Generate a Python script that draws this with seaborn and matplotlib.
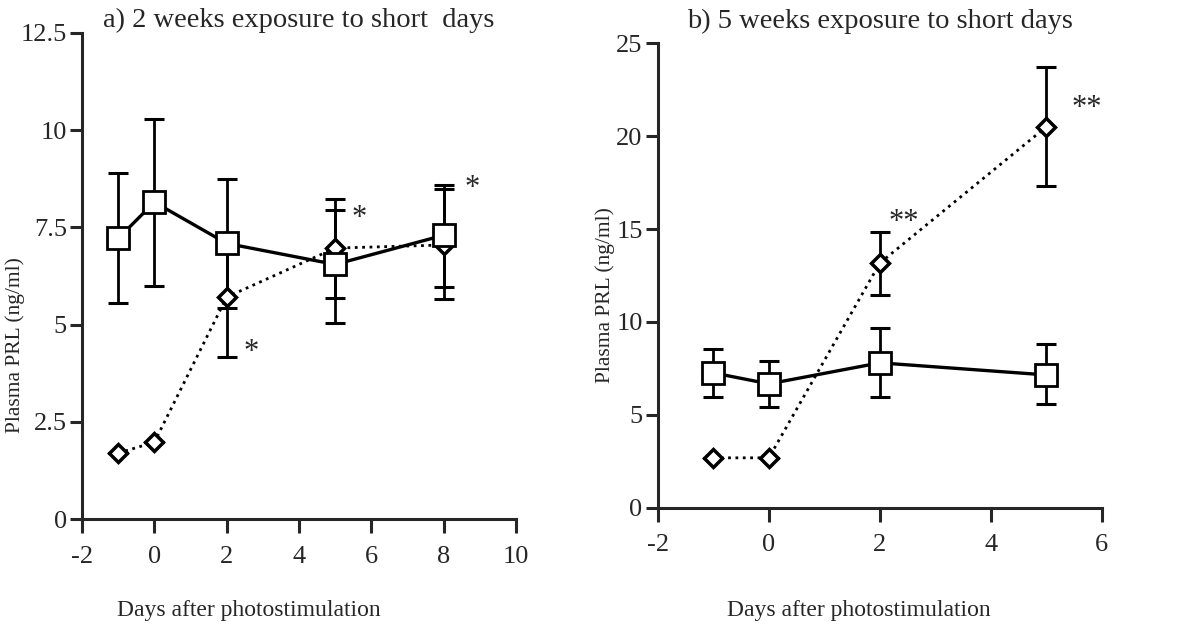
import numpy as np
import pandas as pd
import seaborn as sns
import matplotlib.pyplot as plt

# panel a: 2 weeks short days
days_a = [-1, 0, 2, 5, 8]
ld_a = [7.22, 8.15, 7.09, 6.55, 7.3]
ld_a_lo = [1.67, 2.15, 1.67, 1.5, 1.32]
ld_a_hi = [1.68, 2.13, 1.65, 1.67, 1.3]
sd_a = [1.7, 1.98, 5.71, 6.97, 7.05]
sd_a_lo = [0, 0, 1.53, 1.29, 1.4]
sd_a_hi = [0, 0, 1.45, 0.98, 1.45]
sig_a = ['', '', '*', '*', '*']

# panel b: 5 weeks short days
days_b = [-1, 0, 2, 5]
ld_b = [7.26, 6.67, 7.8, 7.15]
ld_b_lo = [1.29, 1.24, 1.83, 1.56]
ld_b_hi = [1.29, 1.23, 1.88, 1.65]
sd_b = [2.69, 2.69, 13.17, 20.5]
sd_b_lo = [0, 0, 1.72, 3.2]
sd_b_hi = [0, 0, 1.67, 3.2]
sig_b = ['', '', '**', '**']

titles = ['a) 2 weeks exposure to short  days', 'b) 5 weeks exposure to short days']
ylabel = 'Plasma PRL (ng/ml)'
xlabel = 'Days after photostimulation'

sns.set_style('ticks')
plt.rcParams['font.family'] = ['Liberation Serif', 'DejaVu Serif']
plt.rcParams['axes.unicode_minus'] = False

fig = plt.figure(figsize=(11.79, 6.34), dpi=100)
ax_a = fig.add_axes([0.0696, 0.181, 0.368, 0.767])
ax_b = fig.add_axes([0.558, 0.199, 0.3766, 0.733])


def draw_panel(ax, days, ld, ld_lo, ld_hi, sd, sd_lo, sd_hi, sig, sig_offsets):
    ax.errorbar(days, ld, yerr=[ld_lo, ld_hi], fmt='none', ecolor='black',
                elinewidth=2, capsize=7, capthick=2.2, zorder=1)
    ax.errorbar(days, sd, yerr=[sd_lo, sd_hi], fmt='none', ecolor='black',
                elinewidth=2, capsize=7, capthick=2.2, zorder=1)
    df = pd.DataFrame({'day': days, 'ld': ld, 'sd': sd})
    sns.lineplot(data=df, x='day', y='sd', ax=ax, color='black', linestyle=':',
                 lw=2, marker='D', markersize=9, markerfacecolor='white',
                 markeredgecolor='black', markeredgewidth=2.5, zorder=3)
    sns.lineplot(data=df, x='day', y='ld', ax=ax, color='black', lw=2.4,
                 marker='s', markersize=16, markerfacecolor='white',
                 markeredgecolor='black', markeredgewidth=2, zorder=4)
    for d, v, s, off in zip(days, sd, sig, sig_offsets):
        if s:
            ax.annotate(s, xy=(d, v), xytext=off, textcoords='offset points',
                        fontsize=22, ha='left', va='center')
    sns.despine(ax=ax)
    for sp in ('left', 'bottom'):
        ax.spines[sp].set_linewidth(2.2)
    ax.tick_params(axis='x', length=10, width=2.2, labelsize=19, pad=9)
    ax.tick_params(axis='y', length=9, width=2.2, labelsize=19, pad=2)


draw_panel(ax_a, days_a, ld_a, ld_a_lo, ld_a_hi, sd_a, sd_a_lo, sd_a_hi, sig_a,
           [None, None, (12, -40), (12, 21), (15, 41)])
ax_a.set_xlim(-2, 10)
ax_a.set_ylim(0, 12.5)
ax_a.set_xticks(range(-2, 11, 2))
ax_a.set_yticks([0, 2.5, 5, 7.5, 10, 12.5])
ax_a.set_yticklabels(['0', '2.5', '5', '7.5', '10', '12.5'])

draw_panel(ax_b, days_b, ld_b, ld_b_lo, ld_b_hi, sd_b, sd_b_lo, sd_b_hi, sig_b,
           [None, None, (6, 29), (18, 13)])
ax_b.set_xlim(-2, 6)
ax_b.set_ylim(0, 25)
ax_b.set_xticks(range(-2, 7, 2))
ax_b.set_yticks(range(0, 26, 5))

ax_a.set_title(titles[0], fontsize=20.5, pad=4)
ax_b.set_title(titles[1], fontsize=20.5, pad=11)

for ax, ylc, xlc in ((ax_a, (-0.131, 0.358), (0.385, -0.167)),
                     (ax_b, (-0.097, 0.458), (0.453, -0.198))):
    ax.set_ylabel(ylabel, fontsize=15.5)
    ax.set_xlabel(xlabel, fontsize=17)
    ax.yaxis.set_label_coords(*ylc)
    ax.xaxis.set_label_coords(*xlc)

fig.savefig('out.png', dpi=100)
